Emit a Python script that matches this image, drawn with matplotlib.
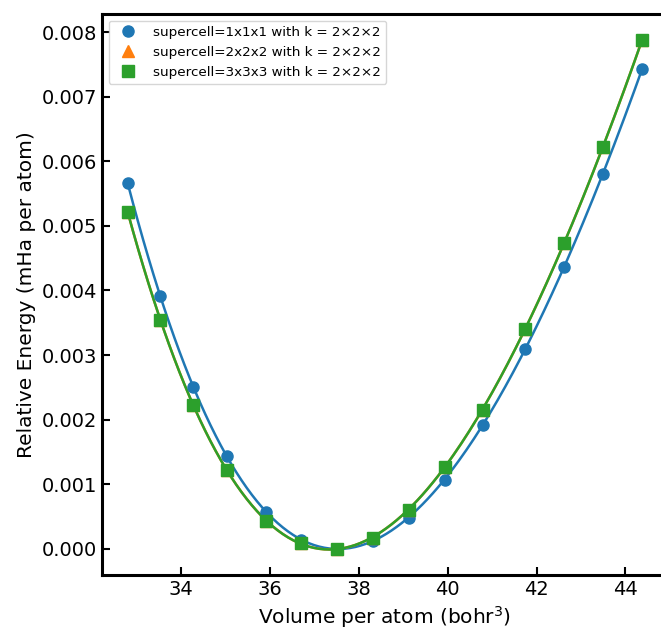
import numpy as np
import matplotlib.pyplot as plt

# volume per atom (bohr^3)
volume = [32.80, 33.53, 34.27, 35.04, 35.92, 36.71, 37.50, 38.31,
          39.12, 39.94, 40.79, 41.74, 42.62, 43.50, 44.38]

# relative energies (mHa per atom)
e_111 = [0.00567, 0.00391, 0.00250, 0.00143, 0.00057, 0.00014, 0.00000, 0.00011,
         0.00048, 0.00107, 0.00191, 0.00310, 0.00437, 0.00581, 0.00744]
e_222 = [0.00522, 0.00355, 0.00222, 0.00121, 0.00043, 0.00008, 0.00000, 0.00017,
         0.00060, 0.00127, 0.00215, 0.00341, 0.00474, 0.00623, 0.00789]
e_333 = [0.00522, 0.00355, 0.00222, 0.00121, 0.00043, 0.00008, 0.00000, 0.00017,
         0.00060, 0.00127, 0.00215, 0.00341, 0.00474, 0.00623, 0.00789]

labels = ['supercell=1x1x1 with k = 2×2×2',
          'supercell=2x2x2 with k = 2×2×2',
          'supercell=3x3x3 with k = 2×2×2']
colors = ['#1f77b4', '#ff7f0e', '#2ca02c']
markers = ['o', '^', 's']

fig = plt.figure(figsize=(6.61, 6.33), dpi=100)
ax = fig.add_axes([102 / 661, 58 / 633, 566 / 661, 561 / 633])

V = np.array(volume)
vfit = np.linspace(V.min(), V.max(), 200)
for E, lab, c, m in zip([e_111, e_222, e_333], labels, colors, markers):
    coef = np.polyfit(V, E, 4)
    ax.plot(vfit, np.polyval(coef, vfit), '-', color=c, lw=1.8, zorder=2)
    ax.plot(V, E, m, color=c, ms=8, label=lab, zorder=3)

ax.set_xlabel('Volume per atom (bohr$^3$)', fontsize=14.5)
ax.set_ylabel('Relative Energy (mHa per atom)', fontsize=14.5)
ax.set_xticks([34, 36, 38, 40, 42, 44])
ax.tick_params(direction='in', width=1.5, length=6, labelsize=14)
for s in ax.spines.values():
    s.set_linewidth(2.2)
ax.legend(loc='upper left', fontsize=9.7, handletextpad=0.9)

fig.savefig('out.png', dpi=100)
